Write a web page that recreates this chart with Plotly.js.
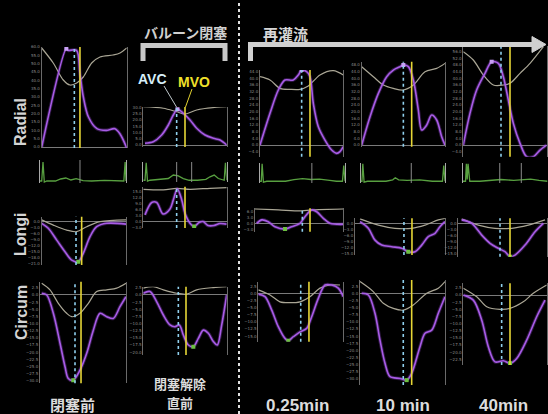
<!DOCTYPE html>
<html>
<head>
<meta charset="utf-8">
<script src="https://cdn.plot.ly/plotly-3.0.1.min.js"></script>
<style>html,body{margin:0;padding:0;background:#000;}#chart{width:548px;height:414px;}</style>
</head>
<body>
<div id="chart"></div>
<script>
// ---------------- DATA ----------------
const columnLabels = ['閉塞前', '閉塞解除', '0.25min', '10 min', '40min'];
const columnSubLabels = ['', '直前', '', '', ''];
const rowLabels = ['Radial', 'Longi', 'Circum'];

// Radial strain (%), time in % of cycle
const radPre_sx = [0,29,31,41,45,49,55,65,76,86,92,100];
const radPre_s  = [0,59,58,58,44,30,18,11,10,11,8,-0.5];
const radPre_vx = [0,13.6,25.4,33.3,41.2,48.9,58.8,68.6,83.9,92.1,100];
const radPre_v  = [59.4,50.4,40.2,37.2,38.4,42,50.4,54,55.2,56.4,59.4];

const radOcc_sx = [2,12,22,30,36,41,48,56,64,74,84,92,100];
const radOcc_s  = [1.4,2.6,8,16,24,28.6,25.4,20,13.4,8,5.4,4,0];
const radOcc_vx = [0,24,40,50,64,88,100];
const radOcc_v  = [30.6,29.4,26.6,24.8,28,30.2,30.6];

const rad025_sx = [0,12,22,30,40,46,50,56,60,64,70,78,86,92,96,100];
const rad025_s  = [0,19,33,39,39,42,45,44,41,25,11,3,-3,-5,-4,-1];
const rad025_vx = [0,12,24,36,48,58,72,88,100];
const rad025_v  = [41,39,34,33.4,33.4,35.4,42,44.6,42];

const rad10_sx = [0,10,20,30,38,46,50,56,62,68,72,78,84,90,96,100];
const rad10_s  = [0,17,31,41,45,47,48,47,39,21,9,12,18,15,5,0];
const rad10_vx = [0,14,26,38,50,62,76,90,100];
const rad10_v  = [47,41,36,34,33,36,44,46,49];

const rad40_sx = [0,8,16,26,34,42,48,54,60,68,76,84,92,100];
const rad40_s  = [0,19,33,43,50,49,41,27,13,1,-7,-7,-3,0];
const rad40_vx = [0,12,24,36,48,56,68,80,96];
const rad40_v  = [56,51,42,36,36,37,43,49,59];

// Longitudinal strain (%)
const lonPre_sx = [0,7.8,17.8,27.6,35.6,43.4,49.3,57.3,65.2,77.1,100];
const lonPre_s  = [-0.8,-3.3,-9.2,-15,-19.2,-20,-15.8,-7.5,-2.5,-0.8,-1.2];
const lonPre_vx = [0,13.8,29.7,41.5,53.4,69.2,100];
const lonPre_v  = [0.9,-1.7,-4.2,-5,-2.5,0,0.9];

const lonOcc_sx = [2,10.1,16.1,23.6,32,36,40.8,46.1,50,56.2,61,66.9,71.7,77.6,84.8,92,100];
const lonOcc_s  = [3.4,9.6,9.6,3.9,6.4,10.9,16.4,10.9,4.2,-0.9,-2.4,-0.4,0.1,-1.9,-1.9,-0.9,-1.2];
const lonOcc_vx = [0,24,40,56,80,100];
const lonOcc_v  = [16.2,15.9,16.7,16.2,16.7,17];

const lon025_sx = [1.9,7.6,15,22.6,34,41.5,51,56.6,64.2,69.9,77.4,84.9,100];
const lon025_s  = [0,1.7,0.8,-1.7,-2.9,-1.7,0,3.3,6.7,5.8,2.5,0,-0.5];
const lon025_vx = [0,26.4,52.9,64.2,100];
const lon025_v  = [7.2,6.7,6.2,6.7,7.2];

const lon10_sx = [5.6,14.8,22.2,29.7,40.8,51.9,59.2,66.7,74.1,81.4,88.9,94.4,100];
const lon10_s  = [0.8,-2.5,-8.4,-10.9,-11.7,-12.5,-14.2,-14.2,-10.9,-6.7,-5,-1.7,0.8];
const lon10_vx = [5.6,25.9,44.4,63,77.8,92.6,100];
const lon10_v  = [2.2,-0.9,-2.5,-2.5,-0.9,1.7,2.5];

const lon40_sx = [3.8,15.2,26.5,35.9,45.2,52.8,58.5,64.1,75.5,86.8,96.2];
const lon40_s  = [1.7,0,-5.9,-10,-12.5,-14.2,-16.7,-15.9,-10.9,-4.2,0];
const lon40_vx = [3.8,22.6,41.5,60.4,79.2,98.1];
const lon40_v  = [2.2,-0.9,-2.5,-2.5,-0.9,1.7];

// Circumferential strain (%)
const cirPre_sx = [2,7.8,15.5,23.3,29.1,32.9,38.7,46.5,54.3,62,69.8,77.6,85.2,93,100];
const cirPre_s  = [0.6,0,-6.4,-16.9,-25.1,-29.2,-29.8,-26.3,-20.4,-12.3,-6.4,-7.6,-8.2,-4.1,-0.6];
const cirPre_vx = [2,11.6,21.3,31,36.9,46.5,56.2,65.9,77.6,89.2,100];
const cirPre_v  = [4.1,1.8,-2.9,-6.4,-7.6,-6.4,-2.9,1.2,1.8,2.4,4.1];

const cirOcc_sx = [0,8,16.1,24,32,38,43.2,48,54,60,66,72,78,84,88.7,94,100];
const cirOcc_s  = [0.6,1.2,-2.4,-7,-10.5,-11.1,-10.5,-14,-17.5,-18.1,-15.2,-12.3,-13.4,-16.3,-17.5,-10.5,0];
const cirOcc_vx = [0,12,24,40,52,64,84,100];
const cirOcc_v  = [2.4,2.9,1.8,0.6,0.3,1.8,2.6,2.9];

const cir025_sx = [0,7.9,15.8,23.5,31.4,35.3,41.2,49.1,56.9,62.8,70.6,78.5,86.4,94.1,100];
const cir025_s  = [-0.3,-1.2,-5.9,-11.7,-15.8,-16.6,-15.2,-13.5,-12.3,-8.2,-1.8,2.9,2.9,1.8,-1.2];
const cir025_vx = [0,13.8,25.5,37.3,49.1,60.8,72.6,84.4,96.1];
const cir025_v  = [1.2,-0.6,-3,-3.3,-3,-1.2,1.8,2.9,2.9];

const cir10_sx = [2,9.8,17.6,23.5,29.4,35.3,47.1,54.9,60.8,70.6,76.5,84.4,92.1,100];
const cir10_s  = [0,-0.6,-7,-16.4,-24.5,-29.2,-29.8,-30.4,-28,-18.7,-14,-12.9,-7,-1.2];
const cir10_vx = [0,15.6,27.4,39.2,50.9,62.7,78.5,92.1,100];
const cir10_v  = [4.1,0.6,-3.5,-5.3,-5.9,-4.1,0,1.8,4.1];

const cir40_sx = [0,12,22.1,30,38,48,56,64,76,88,98];
const cir40_s  = [0,-1.8,-8.8,-18.1,-23.4,-23,-23.9,-22.2,-15.8,-7.6,-1.8];
const cir40_vx = [0,16.1,28.1,44,56,71.9,83.9,100];
const cir40_v  = [2.4,-0.6,-4.1,-5,-4.7,-2.4,0.6,3.5];

// ECG traces (normalised voltage)
const ecgPre_x = [0,2,3.5,5,8,18,24,30,36,42,50,60,75,90,96,97.5,99,100];
const ecgPre_y = [0,0,0.95,-0.05,0,0,0.1,0.15,0.05,0.12,0.02,0,0.03,0,0,0,0.95,0];
const ecgOcc_x = [0,2,3.5,5,8,20,30,36,42,48,55,65,75,80,85,90,95,97,98.5,100];
const ecgOcc_y = [0,0,1,-0.05,0,0.05,0.1,0.3,0.25,0.1,0,0,0.05,0.2,0.3,0.1,0,0,1,0];
const ecg025_x = [0,1.5,2.5,4,8,30,40,50,60,70,82,90,97,98.5,100];
const ecg025_y = [0,0,1,-0.05,0,0,0.1,0.15,0.1,0.12,0.05,0,0,0.9,0];
const ecg10_x = [0,1.5,2.5,4,8,30,38,41,45,55,70,85,97,98.5,100];
const ecg10_y = [0,0,1,-0.05,0,0,0.08,0.2,0.08,0.05,0.08,0,0,0.9,0];
const ecg40_x = [0,3,4,5,6,8,20,35,45,60,70,80,90,100];
const ecg40_y = [0,0,1,0.1,1,0,0,0.05,0.1,0.05,0.1,0.12,0.05,0];

// Event timings (% of cycle): aortic valve closure, mitral valve opening
const avcRad = [38.4, 40, 50, 50, 45.2];
const mvoRad = [45, 50, 60, 60, 56];
const avcLon = [40.7, 40, 53.6, 54.4, 47.2];
const mvoLon = [47.4, 50, 62.3, 63.3, 58.5];
const avcCir = [40.7, 42, 49.9, 50.9, 46];
const mvoCir = [47.7, 51.2, 59.6, 60.8, 56];
const ecgMarkA = [46.5, 40, 61, 60, 43.5];
const ecgMarkB = [null, 58, null, null, 69];

// ---------------- LAYOUT HELPERS ----------------
const W = 548, H = 414;
const X = p => p / W, Y = p => 1 - p / H;

const geom = {
  rad: [{L:41.7,R:126.7,T:47,B:148,yr:[-0.6,60],dt:5},
        {L:143.3,R:226.7,T:107,B:147,yr:[-1.6,30.4],dt:5},
        {L:260,R:343.3,T:70,B:156.7,yr:[-7,45],dt:4},
        {L:361.7,R:445,T:61.7,B:146.7,yr:[-1,50],dt:4},
        {L:463.3,R:546.7,T:46,B:156.7,yr:[-7,59.4],dt:4}],
  ecg: [{L:40,R:126,T:160,B:183},{L:143.3,R:226.7,T:162,B:182},{L:260,R:345,T:163,B:183},
        {L:360.7,R:445,T:163,B:183},{L:463,R:547.5,T:163,B:183}],
  lon: [{L:41.7,R:126,T:216.7,B:265,yr:[-21.65,2.5],dt:3},
        {L:143.3,R:226.7,T:186.7,B:228,yr:[-3.15,17.5],dt:3},
        {L:255,R:343.3,T:208.3,B:231.7,yr:[-4.2,7.5],dt:3},
        {L:355,R:445,T:218.3,B:255,yr:[-15.85,2.5],dt:3},
        {L:458.3,R:546.7,T:218.3,B:256.7,yr:[-16.7,2.5],dt:3}],
  cir: [{L:40,R:126,T:281.7,B:383.3,yr:[-30.9,4.65],dt:2.5},
        {L:143.3,R:226.7,T:286.7,B:355,yr:[-21,2.9],dt:2.5},
        {L:258.3,R:343.3,T:281.7,B:341.7,yr:[-16.95,4.05],dt:2.5},
        {L:360,R:445,T:280,B:385,yr:[-32.1,4.65],dt:2.5},
        {L:463.3,R:546.7,T:283.3,B:365,yr:[-24.5,4.1],dt:2.5}]
};

const series = {
  rad: [[radPre_sx,radPre_s,radPre_vx,radPre_v],[radOcc_sx,radOcc_s,radOcc_vx,radOcc_v],
        [rad025_sx,rad025_s,rad025_vx,rad025_v],[rad10_sx,rad10_s,rad10_vx,rad10_v],[rad40_sx,rad40_s,rad40_vx,rad40_v]],
  lon: [[lonPre_sx,lonPre_s,lonPre_vx,lonPre_v],[lonOcc_sx,lonOcc_s,lonOcc_vx,lonOcc_v],
        [lon025_sx,lon025_s,lon025_vx,lon025_v],[lon10_sx,lon10_s,lon10_vx,lon10_v],[lon40_sx,lon40_s,lon40_vx,lon40_v]],
  cir: [[cirPre_sx,cirPre_s,cirPre_vx,cirPre_v],[cirOcc_sx,cirOcc_s,cirOcc_vx,cirOcc_v],
        [cir025_sx,cir025_s,cir025_vx,cir025_v],[cir10_sx,cir10_s,cir10_vx,cir10_v],[cir40_sx,cir40_s,cir40_vx,cir40_v]]
};
const ecgs = [[ecgPre_x,ecgPre_y],[ecgOcc_x,ecgOcc_y],[ecg025_x,ecg025_y],[ecg10_x,ecg10_y],[ecg40_x,ecg40_y]];
const events = {rad:[avcRad,mvoRad], lon:[avcLon,mvoLon], cir:[avcCir,mvoCir]};

const traces = [];
const shapes = [];
const layout = {
  width: W, height: H, margin: {l:0,r:0,t:0,b:0},
  paper_bgcolor: '#000', plot_bgcolor: '#000', showlegend: false
};
let n = 0;

function addAxes(g, opts) {
  n++;
  const sfx = n === 1 ? '' : String(n);
  const xa = 'x' + sfx, ya = 'y' + sfx;
  layout['xaxis' + sfx] = {domain:[X(g.L), X(g.R)], range:[0,100], visible:false, anchor:ya, fixedrange:true};
  layout['yaxis' + sfx] = {
    domain:[Y(g.B), Y(g.T)], range: g.yr || [-0.1, 1.05], anchor: xa,
    showline:true, mirror:true, linecolor: opts.lineColor || '#6a6a6a', linewidth:1,
    showgrid:false, zeroline: !!opts.zero, zerolinecolor:'#7a7a7a', zerolinewidth:1,
    ticks:'', showticklabels: !!g.dt, dtick: g.dt, tick0: 0, tickformat:'.1f',
    tickfont:{size:4, color:'#8c8c8c', family:'DejaVu Sans'}, fixedrange:true
  };
  return [xa, ya];
}

function vline(xa, ya, x, color, width, dash) {
  shapes.push({type:'line', xref:xa, yref:ya + ' domain', x0:x, x1:x, y0:0, y1:1,
               line:{color:color, width:width, dash:dash}});
}

['rad','ecg','lon','cir'].forEach(row => {
  for (let c = 0; c < 5; c++) {
    const g = geom[row][c];
    if (row === 'ecg') {
      const [xa, ya] = addAxes(g, {zero:false, lineColor:'#a8a8a8'});
      if (ecgMarkA[c] !== null) vline(xa, ya, ecgMarkA[c], '#8a8a8a', 1, 'solid');
      if (ecgMarkB[c] !== null) vline(xa, ya, ecgMarkB[c], '#8a8a8a', 1, 'solid');
      traces.push({x: ecgs[c][0], y: ecgs[c][1], xaxis: xa, yaxis: ya, type:'scatter', mode:'lines',
                   line:{color:'#58a040', width:1.3}, hoverinfo:'skip'});
      continue;
    }
    const [xa, ya] = addAxes(g, {zero:true});
    const s = series[row][c];
    const [avc, mvo] = events[row];
    vline(xa, ya, avc[c], '#8fd0ee', 1.6, 'dot');
    vline(xa, ya, mvo[c], '#e6d636', 1.6, 'solid');
    // volume curve
    traces.push({x: s[2], y: s[3], xaxis: xa, yaxis: ya, type:'scatter', mode:'lines',
                 line:{color:'#aaa695', width:1.2, shape:'spline', smoothing:0.9}, hoverinfo:'skip'});
    // strain glow + curve
    traces.push({x: s[0], y: s[1], xaxis: xa, yaxis: ya, type:'scatter', mode:'lines',
                 line:{color:'rgba(160,80,230,0.3)', width:3.5, shape:'spline', smoothing:0.9}, hoverinfo:'skip'});
    traces.push({x: s[0], y: s[1], xaxis: xa, yaxis: ya, type:'scatter', mode:'lines',
                 line:{color:'#a85ce6', width:1.6, shape:'spline', smoothing:0.9}, hoverinfo:'skip'});
    // peak marker (radial: max, others: min)
    const arr = s[1];
    let idx = 0;
    for (let i = 1; i < arr.length; i++) {
      if (row === 'rad' ? arr[i] > arr[idx] : arr[i] < arr[idx]) idx = i;
    }
    traces.push({x:[s[0][idx]], y:[arr[idx]], xaxis: xa, yaxis: ya, type:'scatter', mode:'markers',
                 marker:{symbol:'square', size:4, color: row === 'rad' ? '#c8a0f4' : '#6cc040'}, hoverinfo:'skip'});
  }
});

// Decorations (paper coordinates)
const P = (x, y) => X(x) + ',' + Y(y);
shapes.push({type:'line', xref:'paper', yref:'paper', x0:X(239), x1:X(239), y0:0, y1:1,
             line:{color:'#e0e0e0', width:2, dash:'dot'}});
shapes.push({type:'path', xref:'paper', yref:'paper',
             path:'M' + P(143,61) + ' L' + P(143,45.5) + ' L' + P(225,45.5) + ' L' + P(225,61),
             line:{color:'#c8c8c8', width:5}});
shapes.push({type:'line', xref:'paper', yref:'paper', x0:X(250), x1:X(534), y0:Y(44.5), y1:Y(44.5),
             line:{color:'#d0d0d0', width:5}});
shapes.push({type:'line', xref:'paper', yref:'paper', x0:X(250.5), x1:X(250.5), y0:Y(42), y1:Y(61),
             line:{color:'#d0d0d0', width:5}});
shapes.push({type:'path', xref:'paper', yref:'paper',
             path:'M' + P(532,36.5) + ' L' + P(546,44.5) + ' L' + P(532,52.5) + ' Z',
             fillcolor:'#d0d0d0', line:{color:'#d0d0d0', width:1}});
shapes.push({type:'line', xref:'paper', yref:'paper', x0:X(164), x1:X(176.5), y0:Y(86), y1:Y(107),
             line:{color:'#bfc8cc', width:1}});
shapes.push({type:'line', xref:'paper', yref:'paper', x0:X(192), x1:X(185.5), y0:Y(89), y1:Y(107),
             line:{color:'#e0d030', width:1}});
layout.shapes = shapes;

const latin = 'Liberation Sans, Arial, sans-serif';
const cjk = 'Noto Sans CJK JP, sans-serif';
function ann(text, x, y, size, color, family, angle) {
  return {text: text, x: X(x), y: Y(y), xref:'paper', yref:'paper', showarrow:false,
          xanchor:'center', yanchor:'middle', textangle: angle || 0, borderpad: 0,
          font:{size:size, color:color, family:family}};
}
layout.annotations = [
  ann('<b>' + rowLabels[0] + '</b>', 21, 122, 16, '#d4d4d4', latin, -90),
  ann('<b>' + rowLabels[1] + '</b>', 21, 234, 16, '#d4d4d4', latin, -90),
  ann('<b>' + rowLabels[2] + '</b>', 21, 313, 16, '#d4d4d4', latin, -90),
  ann('<b>' + columnLabels[0] + '</b>', 72, 404, 15, '#dcdcdc', cjk),
  ann('<b>' + columnLabels[1] + '</b>', 180, 383.5, 13, '#dcdcdc', cjk),
  ann('<b>' + columnSubLabels[1] + '</b>', 180, 402.5, 13, '#dcdcdc', cjk),
  ann('<b>' + columnLabels[2] + '</b>', 298, 405, 17, '#dcdcdc', latin),
  ann('<b>' + columnLabels[3] + '</b>', 403, 405, 17, '#dcdcdc', latin),
  ann('<b>' + columnLabels[4] + '</b>', 503, 405, 17, '#dcdcdc', latin),
  ann('<b>バルーン閉塞</b>', 185, 32, 14, '#cfcfcf', cjk),
  ann('<b>再灌流</b>', 285, 33, 15, '#d6d6d6', cjk),
  ann('<b>AVC</b>', 152, 79, 14, '#d6eef8', latin),
  ann('<b>MVO</b>', 194, 82, 14, '#f0e02a', latin)
];

Plotly.newPlot('chart', traces, layout, {staticPlot:true, displayModeBar:false});
</script>
</body>
</html>
